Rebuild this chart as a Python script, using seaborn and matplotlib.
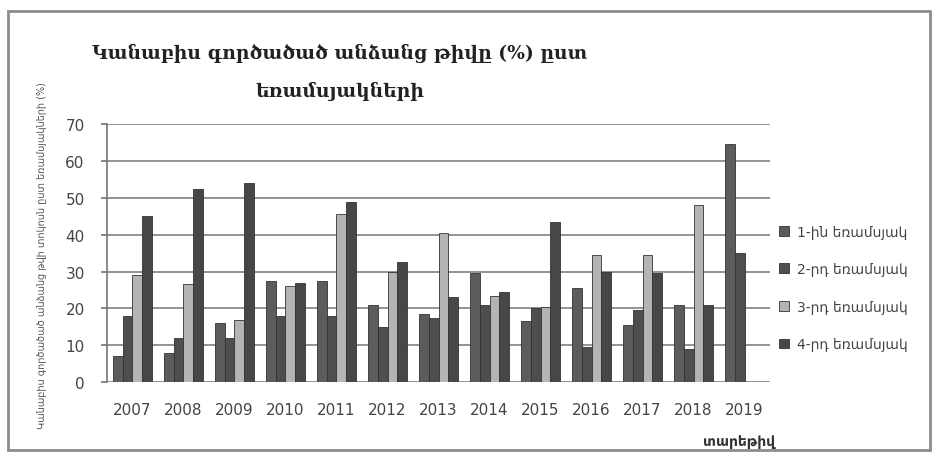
import numpy as np
import pandas as pd
import matplotlib
matplotlib.use("Agg")
import matplotlib.pyplot as plt
import seaborn as sns
from matplotlib.patches import Rectangle

years = ["2007", "2008", "2009", "2010", "2011", "2012", "2013",
         "2014", "2015", "2016", "2017", "2018", "2019"]
quarters = ["1-ին եռամսյակ", "2-րդ եռամսյակ", "3-րդ եռամսյակ", "4-րդ եռամսյակ"]
q1 = [7, 8, 16, 27.5, 27.5, 21, 18.5, 29.5, 16.5, 25.5, 15.5, 21, 64.5]
q2 = [18, 12, 12, 18, 18, 15, 17.5, 21, 20, 9.5, 19.5, 9, 35]
q3 = [29, 26.5, 17, 26, 45.5, 30, 40.5, 23.5, 20.5, 34.5, 34.5, 48, np.nan]
q4 = [45, 52.5, 54, 27, 49, 32.5, 23, 24.5, 43.5, 30, 29.5, 21, np.nan]
yticks = [0, 10, 20, 30, 40, 50, 60, 70]

title = "Կանաբիս գործածած անձանց թիվը (%) ըստ\nեռամսյակների"
ylabel = "Կանաբիս գործածած անձանց թվի տոկոսն ըստ եռամսյակների (%)"
xlabel = "տարեթիվ"

df = pd.DataFrame({
    "year": np.repeat(years, 4),
    "quarter": quarters * len(years),
    "value": np.column_stack([q1, q2, q3, q4]).ravel(),
})

sns.set_theme(style="white")
plt.rcParams["font.family"] = ["DejaVu Sans"]

palette = ["#5c5c5c", "#4e4e4e", "#b4b4b4", "#474747"]

fig = plt.figure(figsize=(9.38, 4.6), dpi=100)
ax = fig.add_axes([0.114, 0.167, 0.707, 0.561])

sns.barplot(data=df, x="year", y="value", hue="quarter", order=years,
            hue_order=quarters, palette=palette, width=0.75, ax=ax,
            edgecolor="#333333", linewidth=0.6, saturation=1)

ax.set_ylim(0, 70)
ax.set_yticks(yticks)
ax.set_xlim(-0.5, len(years) - 0.5)
ax.yaxis.grid(True, color="#8a8a8a", linewidth=1.3)
ax.set_axisbelow(True)
for side in ["top", "right", "bottom"]:
    ax.spines[side].set_visible(False)
ax.spines["left"].set_color("#777777")
ax.spines["left"].set_linewidth(1.2)
ax.tick_params(axis="y", length=4, color="#777777", labelsize=11,
               labelcolor="#444444", pad=12, left=True)
ax.tick_params(axis="x", length=0, labelsize=11, labelcolor="#444444", pad=14)
ax.set_xlabel("")
ax.set_ylabel("")

fig.text(0.045, 0.445, ylabel, rotation=90, ha="center", va="center",
         fontsize=7, color="#555555")
fig.text(0.826, 0.04, xlabel, ha="right", va="center", fontsize=10,
         color="#333333", fontweight="bold")
fig.text(0.362, 0.843, title, ha="center", va="center", fontsize=13.5,
         fontweight="bold", color="#222222", family="DejaVu Serif",
         linespacing=2.25)

handles, labels = ax.get_legend_handles_labels()
ax.legend(handles, labels, loc="center left", bbox_to_anchor=(0.995, 0.365),
          frameon=False, fontsize=10, labelspacing=1.7, handlelength=0.7,
          handleheight=0.7, handletextpad=0.6, labelcolor="#444444")

fig.patches.append(Rectangle((0.008, 0.02), 0.984, 0.955,
                             transform=fig.transFigure, fill=False,
                             edgecolor="#8c8c8c", linewidth=2))

fig.savefig("out.png", dpi=100, facecolor="white")
